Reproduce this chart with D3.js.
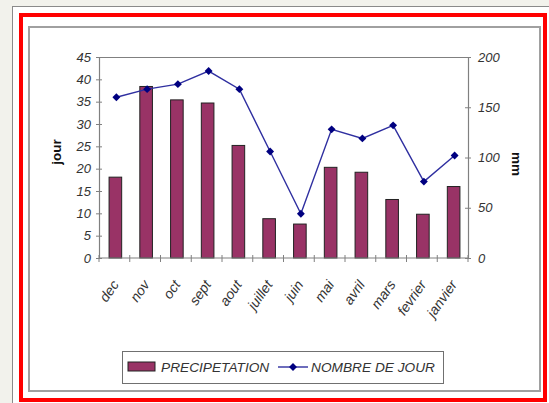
<!DOCTYPE html>
<html>
<head>
<meta charset="utf-8">
<script src="https://cdn.jsdelivr.net/npm/d3@7/dist/d3.min.js"></script>
<style>
  body { margin: 0; background: #f2f2ec; }
  svg { display: block; }
  text { font-family: "Liberation Sans", Arial, sans-serif; }
</style>
</head>
<body>
<div id="chart"></div>
<script>
// mois (ordre du graphique)
const mois = ["dec", "nov", "oct", "sept", "aout", "juillet", "juin", "mai", "avril", "mars", "fevrier", "janvier"];
// barres (axe gauche)
const precipitation = [18.1, 38.4, 35.4, 34.7, 25.2, 8.8, 7.6, 20.3, 19.2, 13.1, 9.8, 16.0];
// ligne (axe droit)
const nombreJour = [160, 168, 173, 186, 168, 106, 44, 128, 119, 132, 76, 102];
const ticksGauche = [0, 5, 10, 15, 20, 25, 30, 35, 40, 45];
const ticksDroite = [0, 50, 100, 150, 200];

const width = 549, height = 403;
const svg = d3.select("#chart").append("svg")
    .attr("width", width)
    .attr("height", height);

// cadres
svg.append("rect").attr("x", 12.5).attr("y", 6.5).attr("width", 600).attr("height", 600)
    .attr("fill", "#fff").attr("stroke", "#8a8a8a").attr("stroke-width", 1);
svg.append("rect").attr("x", 21).attr("y", 15).attr("width", 524).attr("height", 385)
    .attr("fill", "#fff").attr("stroke", "#ff0000").attr("stroke-width", 4);
svg.append("rect").attr("x", 29).attr("y", 27).attr("width", 511).attr("height", 364)
    .attr("fill", "#fff").attr("stroke", "#a0a0a0").attr("stroke-width", 2);

const pLeft = 99, pRight = 468, pTop = 57, pBottom = 258;

const x = d3.scaleBand().domain(mois).range([pLeft, pRight]).padding(0);
const yL = d3.scaleLinear().domain([0, 45]).range([pBottom, pTop]);
const yR = d3.scaleLinear().domain([0, 200]).range([pBottom, pTop]);

// bord du graphique
svg.append("line").attr("x1", pLeft).attr("x2", pRight).attr("y1", pTop + 0.5).attr("y2", pTop + 0.5)
    .attr("stroke", "#808080");

// barres
const bw = x.bandwidth() * 0.41;
svg.selectAll(".bar")
    .data(precipitation)
    .enter().append("rect")
    .attr("class", "bar")
    .attr("x", (d, i) => x(mois[i]) + x.bandwidth() / 2 - bw / 2 + 1)
    .attr("y", d => yL(d))
    .attr("width", bw)
    .attr("height", d => pBottom - yL(d))
    .attr("fill", "#993366")
    .attr("stroke", "#222")
    .attr("stroke-width", 1);

// axes
function styleAxis(g) {
    g.selectAll(".domain").attr("stroke", "#808080").attr("stroke-width", 1.2);
    g.selectAll(".tick line").attr("stroke", "#808080");
    g.selectAll("text").attr("fill", "#333").attr("font-size", 13).attr("font-style", "italic");
}

const axeG = svg.append("g").attr("transform", "translate(" + pLeft + ",0)")
    .call(d3.axisLeft(yL).tickValues(ticksGauche).tickSizeInner(3).tickSizeOuter(0).tickPadding(5));
axeG.selectAll(".tick line").attr("x2", 3).attr("x1", -3);
styleAxis(axeG);

const axeD = svg.append("g").attr("transform", "translate(" + pRight + ",0)")
    .call(d3.axisRight(yR).tickValues(ticksDroite).tickSizeInner(3).tickSizeOuter(0).tickPadding(7));
axeD.selectAll(".tick line").attr("x1", -3).attr("x2", 3);
styleAxis(axeD);

// axe x : traits aux limites des mois
const axeX = svg.append("g").attr("transform", "translate(0," + pBottom + ")");
axeX.append("line").attr("x1", pLeft).attr("x2", pRight).attr("stroke", "#808080").attr("stroke-width", 1.2);
axeX.selectAll(".tk")
    .data(mois.concat(["fin"]))
    .enter().append("line")
    .attr("x1", (d, i) => pLeft + i * x.bandwidth())
    .attr("x2", (d, i) => pLeft + i * x.bandwidth())
    .attr("y1", -3).attr("y2", 4)
    .attr("stroke", "#808080");
axeX.selectAll(".lbl")
    .data(mois)
    .enter().append("text")
    .attr("transform", d => "translate(" + (x(d) + x.bandwidth() / 2 - 3) + ",21) rotate(-55)")
    .attr("text-anchor", "end")
    .attr("dy", "0.7em")
    .attr("font-size", 14)
    .attr("font-style", "italic")
    .attr("fill", "#333")
    .text(d => d);

// ligne
const line = d3.line()
    .x((d, i) => x(mois[i]) + x.bandwidth() / 2 + 2)
    .y(d => yR(d));
svg.append("path").datum(nombreJour)
    .attr("d", line)
    .attr("fill", "none")
    .attr("stroke", "#2f2fa0")
    .attr("stroke-width", 1.4);
svg.selectAll(".pt")
    .data(nombreJour)
    .enter().append("path")
    .attr("class", "pt")
    .attr("d", d3.symbol().type(d3.symbolDiamond2).size(40))
    .attr("transform", (d, i) => "translate(" + (x(mois[i]) + x.bandwidth() / 2 + 2) + "," + yR(d) + ")")
    .attr("fill", "#000080");

// titres des axes
svg.append("text").attr("transform", "translate(61,152) rotate(-90)")
    .attr("text-anchor", "middle").attr("font-weight", "bold").attr("font-size", 13.5).attr("fill", "#111")
    .text("jour");
svg.append("text").attr("transform", "translate(512,164) rotate(90)")
    .attr("text-anchor", "middle").attr("font-weight", "bold").attr("font-size", 13.5).attr("fill", "#111")
    .text("mm");

// légende
const leg = svg.append("g");
leg.append("rect").attr("x", 122.5).attr("y", 351.5).attr("width", 321).attr("height", 32)
    .attr("fill", "#fff").attr("stroke", "#707070");
leg.append("rect").attr("x", 128).attr("y", 362).attr("width", 27).attr("height", 9)
    .attr("fill", "#993366").attr("stroke", "#222");
leg.append("text").attr("x", 161).attr("y", 372).attr("font-size", 13.7).attr("font-style", "italic")
    .attr("fill", "#333").text("PRECIPETATION");
leg.append("line").attr("x1", 278).attr("x2", 308).attr("y1", 367).attr("y2", 367)
    .attr("stroke", "#2f2fa0").attr("stroke-width", 1.4);
leg.append("path").attr("d", d3.symbol().type(d3.symbolDiamond2).size(40))
    .attr("transform", "translate(293,367)").attr("fill", "#000080");
leg.append("text").attr("x", 311).attr("y", 372).attr("font-size", 13.7).attr("font-style", "italic")
    .attr("fill", "#333").text("NOMBRE DE JOUR");
</script>
</body>
</html>
